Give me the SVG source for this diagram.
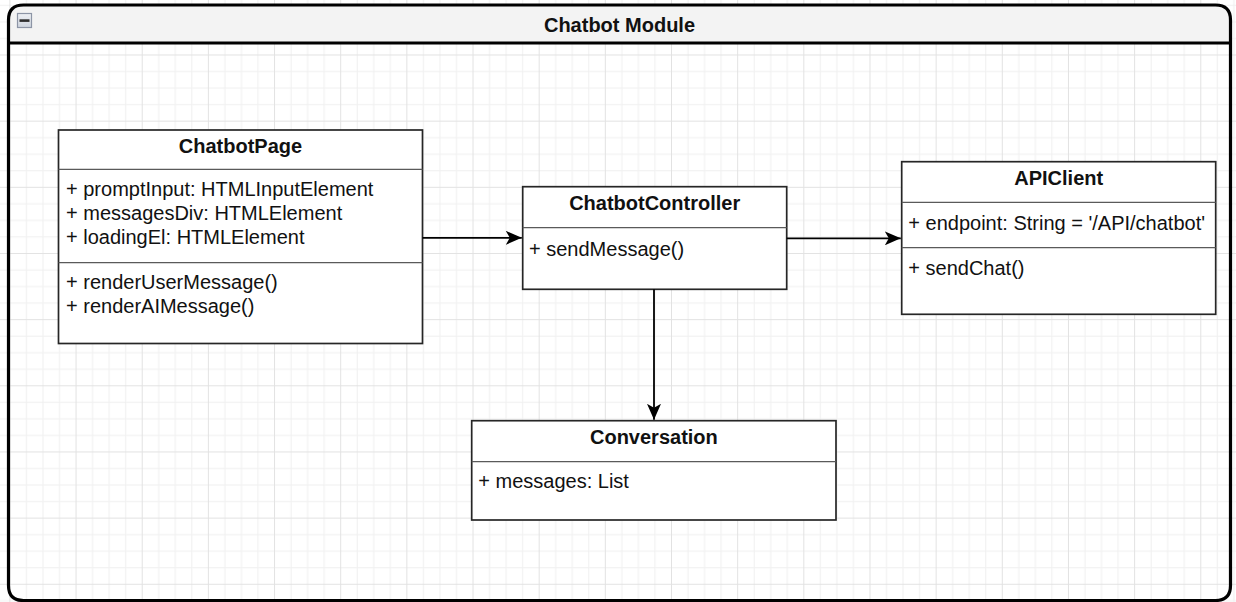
<svg xmlns="http://www.w3.org/2000/svg" width="1236" height="602" viewBox="0 0 1236 602">
  <defs>
    <!-- canvas grid: minor lines every 16.54px, heavier line every 4th -->
    <pattern id="grid" patternUnits="userSpaceOnUse" x="9.4" y="54.5" width="66.16" height="66.16">
      <rect x="16.54" y="0" width="1" height="66.16" fill="#f0f0f0"/>
      <rect x="33.08" y="0" width="1" height="66.16" fill="#f0f0f0"/>
      <rect x="49.62" y="0" width="1" height="66.16" fill="#f0f0f0"/>
      <rect x="0" y="16.54" width="66.16" height="1" fill="#f0f0f0"/>
      <rect x="0" y="33.08" width="66.16" height="1" fill="#f0f0f0"/>
      <rect x="0" y="49.62" width="66.16" height="1" fill="#f0f0f0"/>
      <rect x="0" y="0" width="1" height="66.16" fill="#e2e2e2"/>
      <rect x="0" y="0" width="66.16" height="1" fill="#e2e2e2"/>
    </pattern>
    <linearGradient id="collapse-fill" x1="0" y1="0" x2="0" y2="1">
      <stop offset="0" stop-color="#eef0f4"/>
      <stop offset="1" stop-color="#cfd5df"/>
    </linearGradient>
    <marker id="arrow" markerUnits="userSpaceOnUse" viewBox="0 0 16 14" refX="16" refY="7" markerWidth="16" markerHeight="14" orient="auto">
      <path d="M0,0 L16,7 L0,14 L4,7 Z" fill="#000"/>
    </marker>
    <style>
      text { font-family: "Liberation Sans", Arial, Helvetica, sans-serif; font-size: 20px; fill: #111; }
      .title { font-weight: bold; text-anchor: middle; }
      .box { fill: #fff; stroke: #262626; stroke-width: 1.7; }
      .sep { stroke: #5a5a5a; stroke-width: 1.3; fill: none; }
      .edge { stroke: #000; stroke-width: 1.8; fill: none; marker-end: url(#arrow); }
    </style>
  </defs>

  <rect x="0" y="0" width="1236" height="602" fill="#fff"/>
  <rect x="0" y="0" width="1236" height="602" fill="url(#grid)"/>

  <!-- swimlane container -->
  <g id="chatbot-module">
    <path d="M8.5,43 V20 Q8.5,5 23.5,5 H1215.5 Q1230.5,5 1230.5,20 V43 Z" fill="#f3f3f3"/>
    <path d="M8.5,43 V20 Q8.5,5 23.5,5 H1215.5 Q1230.5,5 1230.5,20 V585.5 Q1230.5,600.5 1215.5,600.5 H23.5 Q8.5,600.5 8.5,585.5 Z" fill="none" stroke="#000" stroke-width="3.2"/>
    <line x1="8.5" y1="43" x2="1230.5" y2="43" stroke="#000" stroke-width="3.2"/>
    <rect x="17.5" y="13.5" width="14" height="14" fill="url(#collapse-fill)" stroke="#8d95a6" stroke-width="1.2"/>
    <rect x="19.5" y="19.3" width="10" height="2.6" fill="#2e2e2e"/>
    <text class="title" x="619.5" y="31.5">Chatbot Module</text>
  </g>

  <g id="chatbot-page">
    <rect class="box" x="58.5" y="130" width="364" height="213.5"/>
    <line class="sep" x1="58.5" y1="169.3" x2="422.5" y2="169.3"/>
    <line class="sep" x1="58.5" y1="262.7" x2="422.5" y2="262.7"/>
    <text class="title" x="240.5" y="153">ChatbotPage</text>
    <text x="66" y="196">+ promptInput: HTMLInputElement</text>
    <text x="66" y="220">+ messagesDiv: HTMLElement</text>
    <text x="66" y="244">+ loadingEl: HTMLElement</text>
    <text x="66" y="288.5">+ renderUserMessage()</text>
    <text x="66" y="312.5">+ renderAIMessage()</text>
  </g>

  <g id="chatbot-controller">
    <rect class="box" x="522.7" y="186.7" width="264" height="102.6"/>
    <line class="sep" x1="522.7" y1="227.7" x2="786.7" y2="227.7"/>
    <text class="title" x="654.7" y="210">ChatbotController</text>
    <text x="529" y="255.5">+ sendMessage()</text>
  </g>

  <g id="api-client">
    <rect class="box" x="901.7" y="161.7" width="314" height="152.6"/>
    <line class="sep" x1="901.7" y1="202.3" x2="1215.7" y2="202.3"/>
    <line class="sep" x1="901.7" y1="247.7" x2="1215.7" y2="247.7"/>
    <text class="title" x="1058.7" y="184.5">APIClient</text>
    <text x="908.3" y="230">+ endpoint: String = '/API/chatbot'</text>
    <text x="908.3" y="275">+ sendChat()</text>
  </g>

  <g id="conversation">
    <rect class="box" x="471.7" y="420.7" width="364.3" height="99.3"/>
    <line class="sep" x1="471.7" y1="461.7" x2="836" y2="461.7"/>
    <text class="title" x="653.9" y="443.7">Conversation</text>
    <text x="478.3" y="488.3">+ messages: List</text>
  </g>

  <g id="connectors">
    <line class="edge" x1="422.5" y1="237.8" x2="521.8" y2="237.8"/>
    <line class="edge" x1="786.7" y1="238.3" x2="900.8" y2="238.3"/>
    <line class="edge" x1="654" y1="289.3" x2="654" y2="419.8"/>
  </g>
</svg>
